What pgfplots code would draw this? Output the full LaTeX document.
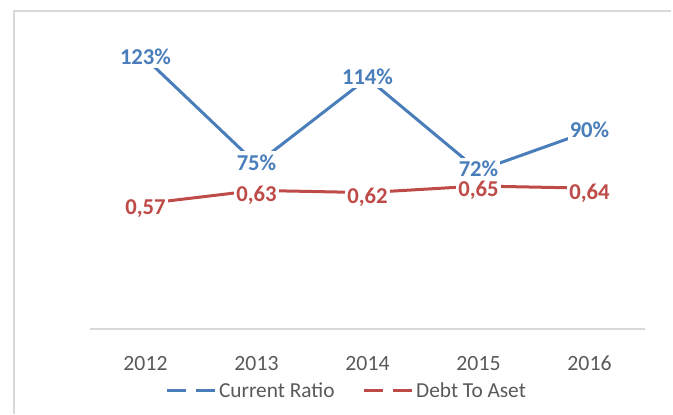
\documentclass[border=0pt]{standalone}
\usepackage{pgfplots}
\pgfplotsset{compat=1.18}
\usepackage{fontspec}
\setmainfont{Carlito}
\definecolor{cblue}{HTML}{4A7EBB}
\definecolor{cred}{HTML}{BE4B48}
\definecolor{txtgray}{HTML}{595959}
\definecolor{axgray}{HTML}{D9D9D9}
\definecolor{brd}{HTML}{D9D9D9}
\begin{document}
\begin{tikzpicture}
\useasboundingbox (-67.5pt,-63.75pt) rectangle (437.25pt,246.75pt);
\draw[brd, line width=1.1pt] (-57pt,-63.75pt) -- (-57pt,238.5pt) -- (436pt,238.5pt);
\begin{axis}[
  at={(0pt,0pt)}, anchor=south west,
  scale only axis, width=416.25pt, height=231pt,
  xmin=-0.5, xmax=4.5, ymin=0, ymax=1.4,
  axis y line=none,
  axis x line*=bottom,
  x axis line style={axgray, line width=1.1pt, -},
  xtick={0,1,2,3,4},
  xticklabels={2012,2013,2014,2015,2016},
  major tick length=0pt,
  /pgf/number format/assume math mode=true,
  xticklabel style={anchor=base, yshift=-31.3pt, text=txtgray, font=\fontsize{16.3}{20}\selectfont},
  clip=false,
  legend columns=2,
  legend style={at={(0.463,-0.201)}, anchor=center, draw=none, fill=none,
    font=\fontsize{16}{20}\selectfont, text=txtgray,
    /tikz/every even column/.append style={column sep=19pt},
    inner sep=0pt},
  legend image code/.code={
    \draw[#1, line width=2.25pt, dash pattern=on 14pt off 8pt] (0pt,0pt) -- (36pt,0pt);
  },
  every node near coord/.append style={anchor=center, fill=white, inner xsep=1.5pt, inner ysep=2.5pt,
    font=\bfseries\fontsize{17}{20}\selectfont},
  nodes near coords,
  point meta=explicit symbolic,
]
\addplot[cblue, line width=2.25pt, every node near coord/.append style={text=cblue, yshift=1pt}] coordinates {
  (0,1.23) [123\%]
  (1,0.75) [75\%]
  (2,1.14) [114\%]
  (3,0.72) [72\%]
  (4,0.90) [90\%]
};
\addlegendentry{Current Ratio}
\addplot[cred, line width=2.25pt, every node near coord/.append style={text=cred, inner ysep=0.5pt, yshift=-3.5pt}] coordinates {
  (0,0.57) [0,57]
  (1,0.63) [0,63]
  (2,0.62) [0,62]
  (3,0.65) [0,65]
  (4,0.64) [0,64]
};
\addlegendentry{Debt To Aset}
\end{axis}
\end{tikzpicture}
\end{document}
